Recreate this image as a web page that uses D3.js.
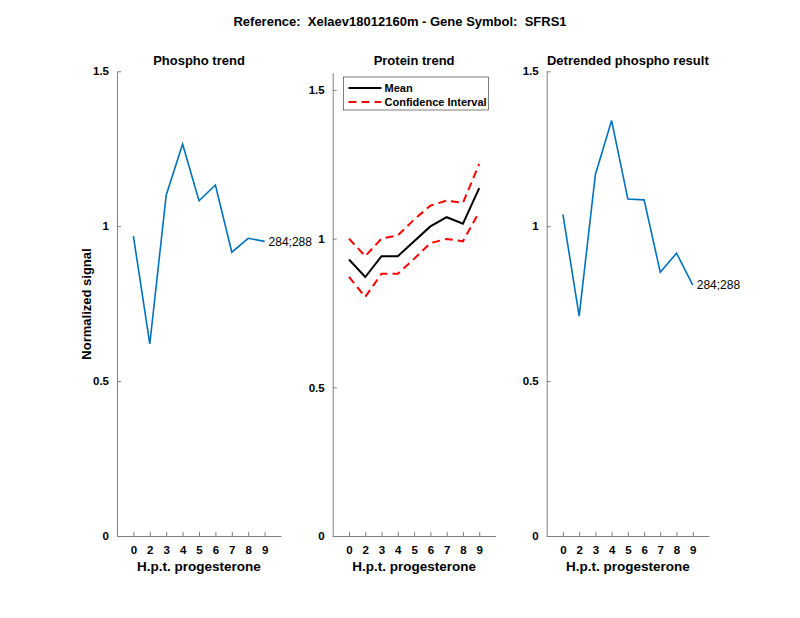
<!DOCTYPE html>
<meta charset="utf-8">
<style>
    body { margin: 0; background: #fff; }
    text { font-family: "Liberation Sans", Arial, sans-serif; fill: #000; }
    .tick text { font-size: 11.5px; font-weight: bold; }
    .axis path, .axis line { stroke: #808080; }
    .ttl { font-size: 13px; font-weight: bold; text-anchor: middle; white-space: pre; }
</style>
<svg width="800" height="618"></svg>
<script src="https://d3js.org/d3.v7.min.js"></script>
<script>
    var hours = ["0", "2", "3", "4", "5", "6", "7", "8", "9"];
    var phospho = [0.968, 0.620, 1.100, 1.265, 1.082, 1.133, 0.916, 0.961, 0.951];
    var proteinMean = [0.930, 0.871, 0.941, 0.941, 0.991, 1.041, 1.072, 1.050, 1.170];
    var proteinUpper = [1.000, 0.941, 1.000, 1.011, 1.064, 1.111, 1.128, 1.120, 1.251];
    var proteinLower = [0.871, 0.804, 0.882, 0.882, 0.932, 0.985, 0.999, 0.991, 1.090];
    var detrended = [1.038, 0.710, 1.167, 1.341, 1.088, 1.085, 0.851, 0.913, 0.810];
    var siteLabel = "284;288";

    var svg = d3.select("svg");
    var blue = "#0072BD";
    var bottom = 536;

    svg.append("text").attr("class", "ttl")
        .attr("x", 400).attr("y", 26)
        .text("Reference:  Xelaev18012160m - Gene Symbol:  SFRS1");

    function panel(left, right, top, ymax, ticks, title) {
        var g = svg.append("g");
        var x = d3.scaleLinear().domain([0, hours.length + 1]).range([left, right]);
        var y = d3.scaleLinear().domain([0, ymax]).range([bottom, top]);

        g.append("g").attr("class", "axis")
            .attr("transform", "translate(0," + bottom + ")")
            .call(d3.axisBottom(x).tickValues(d3.range(1, hours.length + 1))
                .tickFormat(function(d) { return hours[d - 1]; })
                .tickSizeInner(-4).tickSizeOuter(0).tickPadding(10));
        g.append("g").attr("class", "axis")
            .attr("transform", "translate(" + left + ",0)")
            .call(d3.axisLeft(y).tickValues(ticks)
                .tickFormat(function(d) { return d; })
                .tickSizeInner(-4).tickSizeOuter(0).tickPadding(8));

        g.append("text").attr("class", "ttl")
            .attr("x", (left + right) / 2).attr("y", 65).text(title);
        g.append("text").attr("class", "ttl")
            .attr("x", (left + right) / 2).attr("y", 571)
            .style("font-size", "13.5px").text("H.p.t. progesterone");
        return { g: g, x: x, y: y };
    }

    function drawLine(p, values, color, width, dash) {
        var line = d3.line()
            .x(function(d, i) { return p.x(i + 1); })
            .y(function(d) { return p.y(d); });
        p.g.append("path").datum(values)
            .attr("d", line)
            .attr("fill", "none")
            .attr("stroke", color)
            .attr("stroke-width", width)
            .attr("stroke-dasharray", dash || null);
    }

    function endLabel(p, values) {
        var n = values.length;
        p.g.append("text")
            .attr("x", p.x(n) + 4).attr("y", p.y(values[n - 1]))
            .attr("dy", "0.35em")
            .style("font-size", "12px")
            .text(siteLabel);
    }

    // phospho trend
    var p1 = panel(117, 281, 71.3, 1.5, [0, 0.5, 1, 1.5], "Phospho trend");
    drawLine(p1, phospho, blue, 1.6);
    endLabel(p1, phospho);
    svg.append("text").attr("class", "ttl")
        .attr("transform", "translate(91,304) rotate(-90)")
        .text("Normalized signal");

    // protein trend
    var p2 = panel(332.7, 495.5, 72.7, 1.558, [0, 0.5, 1, 1.5], "Protein trend");
    drawLine(p2, proteinUpper, "#ff0000", 2, "8,5");
    drawLine(p2, proteinLower, "#ff0000", 2, "8,5");
    drawLine(p2, proteinMean, "#000", 2);

    var leg = p2.g.append("g").attr("transform", "translate(343.5,77)");
    leg.append("rect").attr("width", 145).attr("height", 33)
        .attr("fill", "#fff").attr("stroke", "#262626").attr("stroke-width", 0.6);
    leg.append("line").attr("x1", 5).attr("x2", 38).attr("y1", 11).attr("y2", 11)
        .attr("stroke", "#000").attr("stroke-width", 2);
    leg.append("line").attr("x1", 5).attr("x2", 38).attr("y1", 25).attr("y2", 25)
        .attr("stroke", "#ff0000").attr("stroke-width", 2).attr("stroke-dasharray", "8,5");
    leg.append("text").attr("x", 41).attr("y", 11).attr("dy", "0.35em")
        .style("font-size", "11px").style("font-weight", "bold").text("Mean");
    leg.append("text").attr("x", 41).attr("y", 25).attr("dy", "0.35em")
        .style("font-size", "11px").style("font-weight", "bold").text("Confidence Interval");

    // detrended
    var p3 = panel(546.7, 709, 71.3, 1.5, [0, 0.5, 1, 1.5], "Detrended phospho result");
    drawLine(p3, detrended, blue, 1.6);
    endLabel(p3, detrended);
</script>
